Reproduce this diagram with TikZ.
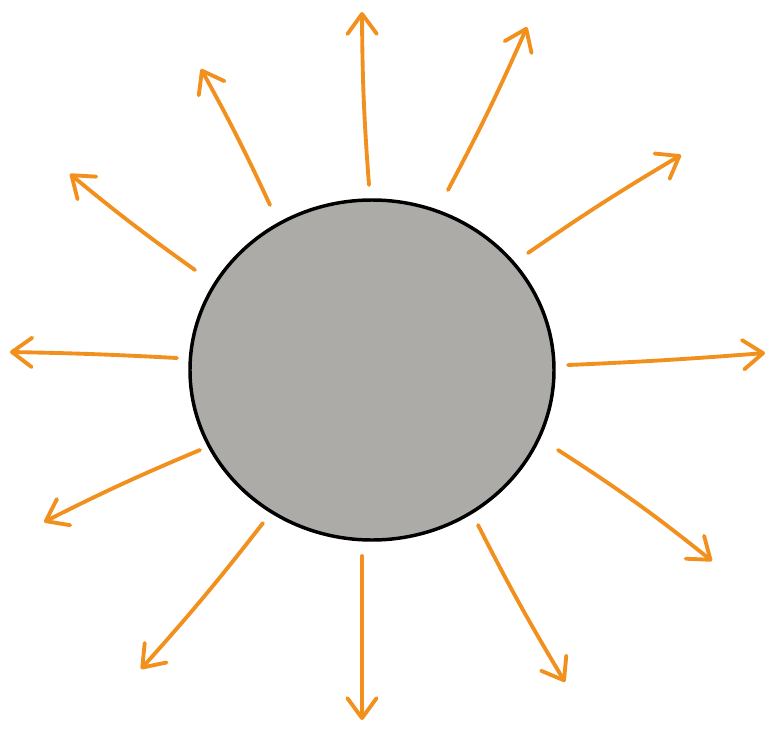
\documentclass[tikz,border=0pt]{standalone}
\usetikzlibrary{arrows.meta,shapes.geometric}
\definecolor{rayorange}{HTML}{F2901E}
\definecolor{sungray}{HTML}{ADABA7}
\tikzset{
  ray/.style={draw=rayorange, line width=2.9pt, line cap=round, line join=round,
    -{Straight Barb[length=15pt, width=22pt, round, line width=2.9pt]}},
  sunbody/.style={ellipse, draw=black, line width=2.6pt, fill=sungray,
    minimum width=273pt, minimum height=255pt, inner sep=0pt}
}
\begin{document}
\begin{tikzpicture}[x=0.75pt, y=-0.75pt]
\useasboundingbox (0,0) rectangle (769,729);
\node[sunbody] (sun) at (372,370) {};
% ray start (s) and end (e) coordinates
\coordinate (s1) at (369,185);  \coordinate (e1) at (362,12);
\coordinate (s2) at (448,190);  \coordinate (e2) at (527,27);
\coordinate (s3) at (528,253);  \coordinate (e3) at (681,155);
\coordinate (s4) at (568,365);  \coordinate (e4) at (765,353);
\coordinate (s5) at (558,450);  \coordinate (e5) at (712,561);
\coordinate (s6) at (478,525);  \coordinate (e6) at (565,682);
\coordinate (s7) at (362,556);  \coordinate (e7) at (362,720);
\coordinate (s8) at (263,523);  \coordinate (e8) at (141,669);
\coordinate (s9) at (200,450);  \coordinate (e9) at (44,522);
\coordinate (s10) at (177,358); \coordinate (e10) at (10,352);
\coordinate (s11) at (195,270); \coordinate (e11) at (70,174);
\coordinate (s12) at (270,205); \coordinate (e12) at (201,69);
\draw[ray] (s1) to[bend left=2] (e1);
\draw[ray] (s2) to[bend right=2] (e2);
\draw[ray] (s3) to[bend left=2] (e3);
\draw[ray] (s4) to[bend right=1] (e4);
\draw[ray] (s5) to[bend left=3] (e5);
\draw[ray] (s6) to[bend right=2] (e6);
\draw[ray] (s7) -- (e7);
\draw[ray] (s8) to[bend left=2] (e8);
\draw[ray] (s9) to[bend right=2] (e9);
\draw[ray] (s10) to[bend right=1] (e10);
\draw[ray] (s11) to[bend left=2] (e11);
\draw[ray] (s12) to[bend right=2] (e12);
\end{tikzpicture}
\end{document}
